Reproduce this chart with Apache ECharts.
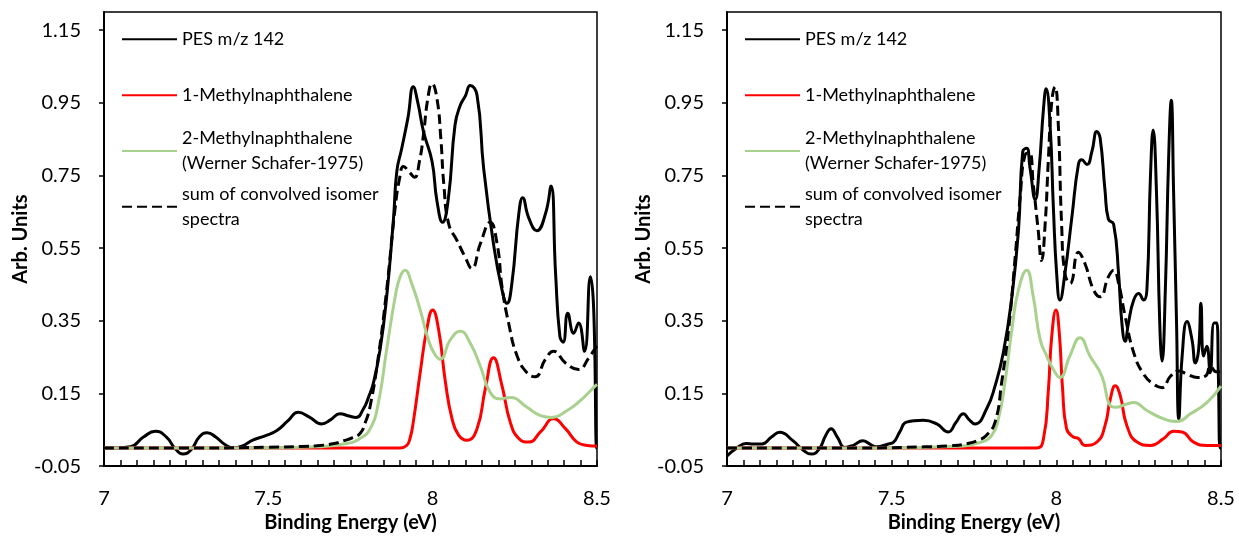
<!DOCTYPE html>
<html>
<head>
<meta charset="utf-8">
<script src="https://cdn.jsdelivr.net/npm/echarts@6/dist/echarts.min.js"></script>
<style>
html,body{margin:0;padding:0;background:#fff;}
#chart{width:1239px;height:538px;}
</style>
</head>
<body>
<div id="chart"></div>
<script>
// ---- tick labels / axis settings (values) ----
const xTicks = [7, 7.5, 8, 8.5];
const yTicks = [-0.05, 0.15, 0.35, 0.55, 0.75, 0.95, 1.15];
const seriesNames = ['PES m/z 142', '1-Methylnaphthalene', '2-Methylnaphthalene\n(Werner Schafer-1975)', 'sum of convolved isomer\nspectra'];

// ---- left panel data [binding energy eV, arb. units] ----
const pesLeft = [[7,0],[7.04,0],[7.08,0.003],[7.12,0.03],[7.156,0.046],[7.19,0.03],[7.215,0.0],[7.24,-0.017],[7.265,-0.005],[7.29,0.03],[7.314,0.042],[7.34,0.03],[7.37,0.008],[7.394,0],[7.42,0.005],[7.454,0.022],[7.49,0.033],[7.526,0.048],[7.56,0.075],[7.591,0.098],[7.625,0.085],[7.662,0.066],[7.69,0.078],[7.718,0.094],[7.745,0.088],[7.767,0.084],[7.789,0.107],[7.805,0.14],[7.82,0.18],[7.84,0.271],[7.86,0.416],[7.881,0.634],[7.891,0.762],[7.906,0.825],[7.925,0.91],[7.941,0.994],[7.955,0.95],[7.972,0.871],[7.998,0.789],[8.013,0.68],[8.03,0.621],[8.048,0.689],[8.068,0.889],[8.084,0.943],[8.1,0.97],[8.114,0.998],[8.135,0.971],[8.155,0.771],[8.185,0.562],[8.211,0.435],[8.226,0.398],[8.241,0.453],[8.262,0.644],[8.274,0.689],[8.292,0.634],[8.317,0.598],[8.343,0.644],[8.36,0.721],[8.374,0.48],[8.387,0.307],[8.397,0.291],[8.411,0.371],[8.429,0.316],[8.444,0.344],[8.462,0.266],[8.48,0.471],[8.49,0.38],[8.499,0.0],[8.5,0.0]];
const m1Left = [[7,0],[7.9,0],[7.921,0.007],[7.931,0.026],[7.941,0.071],[7.962,0.207],[7.982,0.326],[8.0,0.38],[8.018,0.326],[8.039,0.18],[8.059,0.08],[8.079,0.035],[8.104,0.021],[8.135,0.053],[8.16,0.162],[8.185,0.248],[8.211,0.171],[8.236,0.071],[8.262,0.026],[8.292,0.016],[8.328,0.044],[8.368,0.08],[8.404,0.053],[8.439,0.016],[8.47,0.007],[8.5,0.005]];
const m2Left = [[7,0],[7.5,0],[7.65,0.003],[7.738,0.012],[7.779,0.026],[7.81,0.053],[7.835,0.125],[7.86,0.271],[7.886,0.416],[7.901,0.471],[7.916,0.489],[7.936,0.453],[7.962,0.38],[7.987,0.298],[8.005,0.26],[8.023,0.244],[8.054,0.298],[8.084,0.321],[8.114,0.289],[8.145,0.225],[8.175,0.153],[8.206,0.135],[8.236,0.139],[8.287,0.112],[8.328,0.089],[8.363,0.084],[8.409,0.103],[8.449,0.13],[8.495,0.171],[8.5,0.175]];
const sumLeft = [[7,0],[7.3,0],[7.5,0.002],[7.6,0.004],[7.647,0.006],[7.7,0.012],[7.73,0.02],[7.755,0.028],[7.779,0.04],[7.795,0.07],[7.81,0.116],[7.835,0.253],[7.86,0.435],[7.886,0.662],[7.9,0.745],[7.911,0.775],[7.931,0.757],[7.945,0.745],[7.96,0.79],[7.972,0.862],[7.985,0.96],[7.998,1.003],[8.013,0.962],[8.025,0.85],[8.034,0.725],[8.049,0.616],[8.074,0.571],[8.099,0.525],[8.119,0.494],[8.145,0.562],[8.175,0.621],[8.196,0.562],[8.211,0.444],[8.231,0.344],[8.257,0.253],[8.287,0.207],[8.312,0.196],[8.343,0.244],[8.368,0.266],[8.404,0.234],[8.444,0.216],[8.475,0.248],[8.495,0.275],[8.5,0.28]];

// ---- right panel data ----
const pesRight = [[7,-0.022],[7.03,0.0],[7.058,0.012],[7.08,0.011],[7.106,0.011],[7.135,0.03],[7.16,0.043],[7.2,0.02],[7.23,-0.005],[7.256,-0.017],[7.28,-0.003],[7.3,0.035],[7.316,0.053],[7.335,0.03],[7.358,0.001],[7.385,0.008],[7.412,0.02],[7.435,0.01],[7.454,0.003],[7.49,0.011],[7.505,0.015],[7.525,0.045],[7.545,0.071],[7.596,0.076],[7.637,0.066],[7.672,0.044],[7.695,0.07],[7.718,0.094],[7.735,0.078],[7.753,0.066],[7.788,0.107],[7.814,0.171],[7.839,0.262],[7.865,0.416],[7.885,0.598],[7.898,0.816],[7.91,0.825],[7.92,0.771],[7.936,0.684],[7.948,0.771],[7.961,0.934],[7.969,0.989],[7.981,0.889],[7.991,0.662],[8.001,0.48],[8.011,0.407],[8.026,0.48],[8.047,0.634],[8.067,0.78],[8.077,0.793],[8.093,0.78],[8.108,0.816],[8.123,0.871],[8.133,0.853],[8.148,0.707],[8.158,0.63],[8.174,0.616],[8.189,0.48],[8.199,0.344],[8.209,0.294],[8.219,0.344],[8.235,0.407],[8.25,0.425],[8.265,0.407],[8.275,0.435],[8.286,0.753],[8.294,0.875],[8.304,0.707],[8.314,0.344],[8.321,0.239],[8.331,0.435],[8.341,0.798],[8.349,0.957],[8.356,0.707],[8.365,0.344],[8.372,0.08],[8.382,0.253],[8.397,0.348],[8.412,0.298],[8.422,0.234],[8.432,0.27],[8.439,0.398],[8.447,0.253],[8.457,0.28],[8.467,0.207],[8.479,0.344],[8.487,0.344],[8.492,0.2],[8.497,0.0],[8.5,0.0]];
const m1Right = [[7,0],[7.94,0],[7.961,0.026],[7.976,0.162],[7.986,0.307],[7.999,0.38],[8.009,0.316],[8.019,0.162],[8.031,0.053],[8.052,0.03],[8.067,0.026],[8.087,0.007],[8.123,0.016],[8.148,0.062],[8.164,0.135],[8.179,0.171],[8.194,0.144],[8.214,0.062],[8.245,0.016],[8.286,0.007],[8.326,0.026],[8.356,0.046],[8.382,0.044],[8.417,0.016],[8.457,0.007],[8.5,0.007]];
const m2Right = [[7,0],[7.5,0],[7.68,0.004],[7.768,0.015],[7.804,0.035],[7.824,0.08],[7.844,0.18],[7.865,0.326],[7.885,0.435],[7.91,0.489],[7.93,0.416],[7.951,0.298],[7.971,0.253],[7.991,0.216],[8.011,0.194],[8.041,0.253],[8.072,0.303],[8.102,0.253],[8.138,0.198],[8.164,0.116],[8.179,0.112],[8.214,0.121],[8.235,0.125],[8.275,0.103],[8.326,0.08],[8.367,0.073],[8.407,0.094],[8.457,0.125],[8.5,0.17]];
const sumRight = [[7,0],[7.4,0],[7.6,0.003],[7.68,0.006],[7.73,0.012],[7.765,0.022],[7.788,0.035],[7.814,0.071],[7.834,0.18],[7.855,0.326],[7.875,0.525],[7.89,0.689],[7.905,0.807],[7.918,0.812],[7.93,0.725],[7.945,0.598],[7.955,0.516],[7.966,0.616],[7.976,0.798],[7.986,0.953],[7.996,0.994],[8.006,0.889],[8.016,0.616],[8.026,0.48],[8.042,0.453],[8.067,0.539],[8.087,0.507],[8.113,0.435],[8.133,0.416],[8.158,0.471],[8.174,0.489],[8.189,0.453],[8.209,0.362],[8.235,0.262],[8.265,0.203],[8.296,0.175],[8.321,0.166],[8.347,0.198],[8.372,0.212],[8.397,0.203],[8.428,0.194],[8.453,0.198],[8.468,0.225],[8.485,0.21],[8.5,0.21]];

const FONT = 'Lato';
const colors = ['#000000', '#ff0000', '#a9d18e', '#000000'];
const lineTypes = ['solid', 'solid', 'solid', [10, 5]];

const panels = [
  {grid: {left: 104, top: 12, width: 493, height: 459}, legendLeft: 121, data: [pesLeft, m1Left, m2Left, sumLeft]},
  {grid: {left: 727, top: 12, width: 494, height: 459}, legendLeft: 744, data: [pesRight, m1Right, m2Right, sumRight]}
];

const grids = [], xAxes = [], yAxes = [], series = [], legends = [];
const legendIconY = [39.3, 95.3, 151, 206.7];

panels.forEach((p, i) => {
  grids.push(Object.assign({show: true, borderColor: '#000', borderWidth: 1.5, backgroundColor: '#fff'}, p.grid));
  xAxes.push({
    type: 'value', gridIndex: i, min: xTicks[0], max: xTicks[xTicks.length - 1], interval: 0.5,
    name: 'Binding Energy (eV)', nameLocation: 'middle', nameGap: 41,
    nameTextStyle: {fontFamily: FONT, fontWeight: 'bold', fontSize: 20, color: '#000'},
    axisLine: {show: true, onZero: false, lineStyle: {color: '#000', width: 2}},
    axisTick: {show: true, inside: true, length: 6, lineStyle: {color: '#000', width: 1.5}},
    minorTick: {show: true, splitNumber: 10, length: 6, lineStyle: {color: '#000', width: 1.5}},
    splitLine: {show: false}, minorSplitLine: {show: false},
    axisLabel: {fontFamily: FONT, fontSize: 20, color: '#000', margin: 22}
  });
  yAxes.push({
    type: 'value', gridIndex: i, min: yTicks[0], max: 1.2, interval: 0.2,
    name: 'Arb. Units', nameLocation: 'middle', nameGap: 72, nameRotate: 90,
    nameTextStyle: {fontFamily: FONT, fontWeight: 'bold', fontSize: 20, color: '#000'},
    axisLine: {show: true, onZero: false, lineStyle: {color: '#000', width: 2}},
    axisTick: {show: true, inside: false, length: 5, lineStyle: {color: '#000', width: 1.5}},
    splitLine: {show: false},
    axisLabel: {fontFamily: FONT, fontSize: 20, color: '#000', margin: 23, showMaxLabel: false,
      formatter: v => (Math.round(v * 100) / 100).toFixed(2)}
  });
  p.data.forEach((d, k) => {
    series.push({
      name: seriesNames[k], type: 'line', xAxisIndex: i, yAxisIndex: i, data: d,
      showSymbol: false, symbol: 'none', smooth: 0.5, clip: true,
      lineStyle: {color: colors[k], width: 3, type: lineTypes[k]},
      itemStyle: {color: colors[k]}, z: 2 + k
    });
  });
  seriesNames.forEach((n, k) => {
    const multi = n.indexOf('\n') >= 0;
    legends.push({
      left: p.legendLeft, top: legendIconY[k] - (multi ? 37.5 : 12.5), orient: 'vertical', padding: 0,
      itemWidth: 55, itemHeight: 14, itemGap: 0, selectedMode: false,
      itemStyle: {color: 'rgba(0,0,0,0)', borderColor: 'rgba(0,0,0,0)', borderWidth: 0, opacity: 0},
      textStyle: {fontFamily: FONT, fontSize: 18, color: '#000', lineHeight: 25},
      data: [{name: n, textStyle: multi ? {padding: [25, 0, 0, 0]} : {}}]
    });
  });
});

const chart = echarts.init(document.getElementById('chart'), null, {renderer: 'canvas'});
chart.setOption({
  animation: false,
  backgroundColor: '#fff',
  grid: grids, xAxis: xAxes, yAxis: yAxes, legend: legends, series: series
});
</script>
</body>
</html>
